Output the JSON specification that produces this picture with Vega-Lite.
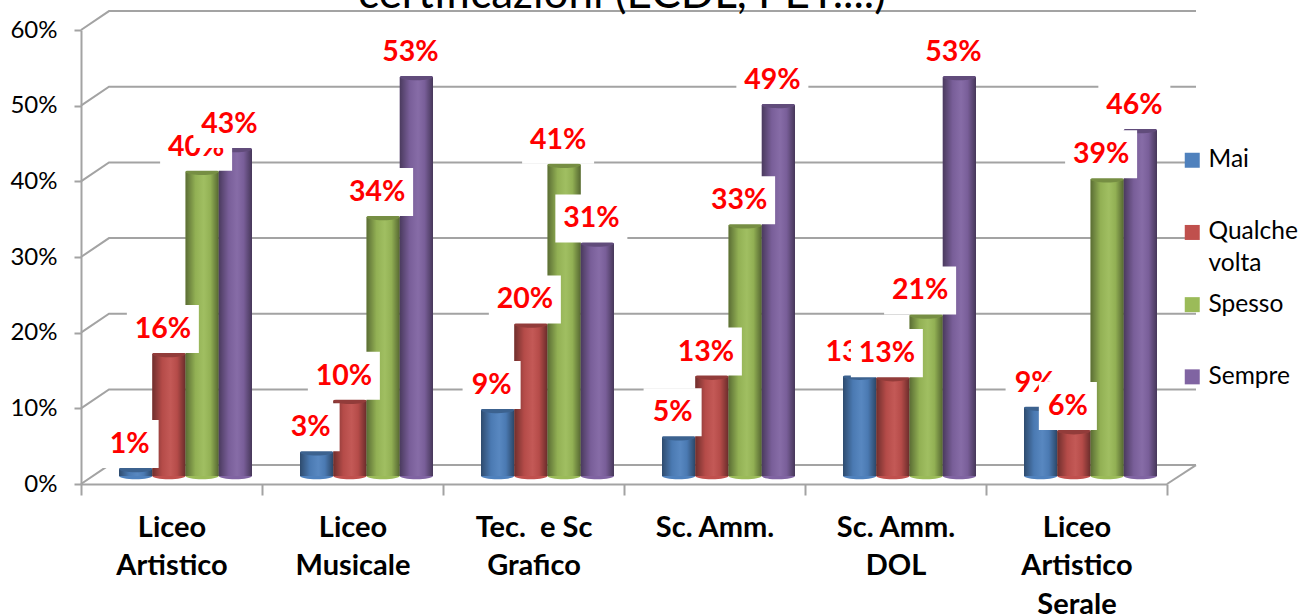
{
"$schema":"https://vega.github.io/schema/vega-lite/v6.json",
"width":1086,"height":454,
"autosize":{"type":"none"},
"padding":{"left":81,"top":30,"right":147,"bottom":132},
"background":"white",
"config":{"font":"Lato","view":{"stroke":null},"style":{"guide-label":{"lineHeight":32}}},
"title":{"text":"certificazioni (ECDL, PET....)","font":"Lato","fontSize":44,"fontWeight":"normal","color":"#000000","anchor":"middle","baseline":"alphabetic","offset":-45,"dx":-2},
"datasets":{
"wall":[
{"linea":"0","dx":0,"livello":0},{"linea":"0","dx":28,"livello":0.025},{"linea":"0","dx":1115,"livello":0.025},
{"linea":"0b","dx":1086,"livello":0},{"linea":"0b","dx":1115,"livello":0.025},
{"linea":"10","dx":0,"livello":0.1},{"linea":"10","dx":28,"livello":0.125},{"linea":"10","dx":1115,"livello":0.125},
{"linea":"20","dx":0,"livello":0.2},{"linea":"20","dx":28,"livello":0.225},{"linea":"20","dx":1115,"livello":0.225},
{"linea":"30","dx":0,"livello":0.3},{"linea":"30","dx":28,"livello":0.325},{"linea":"30","dx":1115,"livello":0.325},
{"linea":"40","dx":0,"livello":0.4},{"linea":"40","dx":28,"livello":0.425},{"linea":"40","dx":1115,"livello":0.425},
{"linea":"50","dx":0,"livello":0.5},{"linea":"50","dx":28,"livello":0.525},{"linea":"50","dx":1115,"livello":0.525},
{"linea":"60","dx":0,"livello":0.6},{"linea":"60","dx":28,"livello":0.625},{"linea":"60","dx":1115,"livello":0.625}
],
"valori":[
{"scuola":"Liceo\nArtistico","serie":"Mai","valore":0.012},
{"scuola":"Liceo\nArtistico","serie":"Qualche volta","valore":0.164},
{"scuola":"Liceo\nArtistico","serie":"Spesso","valore":0.4049},
{"scuola":"Liceo\nArtistico","serie":"Sempre","valore":0.4349},
{"scuola":"Liceo\nMusicale","serie":"Mai","valore":0.034},
{"scuola":"Liceo\nMusicale","serie":"Qualche volta","valore":0.102},
{"scuola":"Liceo\nMusicale","serie":"Spesso","valore":0.3449},
{"scuola":"Liceo\nMusicale","serie":"Sempre","valore":0.53},
{"scuola":"Tec. \u00a0e Sc\nGrafico","serie":"Mai","valore":0.09},
{"scuola":"Tec. \u00a0e Sc\nGrafico","serie":"Qualche volta","valore":0.203},
{"scuola":"Tec. \u00a0e Sc\nGrafico","serie":"Spesso","valore":0.414},
{"scuola":"Tec. \u00a0e Sc\nGrafico","serie":"Sempre","valore":0.31},
{"scuola":"Sc. Amm.","serie":"Mai","valore":0.054},
{"scuola":"Sc. Amm.","serie":"Qualche volta","valore":0.134},
{"scuola":"Sc. Amm.","serie":"Spesso","valore":0.334},
{"scuola":"Sc. Amm.","serie":"Sempre","valore":0.493},
{"scuola":"Sc. Amm.\nDOL","serie":"Mai","valore":0.134},
{"scuola":"Sc. Amm.\nDOL","serie":"Qualche volta","valore":0.132},
{"scuola":"Sc. Amm.\nDOL","serie":"Spesso","valore":0.2149},
{"scuola":"Sc. Amm.\nDOL","serie":"Sempre","valore":0.53},
{"scuola":"Liceo\nArtistico\nSerale","serie":"Mai","valore":0.093},
{"scuola":"Liceo\nArtistico\nSerale","serie":"Qualche volta","valore":0.062},
{"scuola":"Liceo\nArtistico\nSerale","serie":"Spesso","valore":0.3949},
{"scuola":"Liceo\nArtistico\nSerale","serie":"Sempre","valore":0.46}
]},
"layer":[
{"data":{"name":"wall"},
 "mark":{"type":"line","color":"#A3A3A3","strokeWidth":2,"clip":false},
 "encoding":{
  "x":{"field":"dx","type":"quantitative","scale":{"domain":[0,1086],"nice":false,"zero":false},"axis":null},
  "y":{"field":"livello","type":"quantitative","scale":{"domain":[0,0.6],"nice":false},"title":null,"axis":{"format":".0%","values":[0,0.1,0.2,0.3,0.4,0.5,0.6],"grid":false,"domainColor":"#A3A3A3","domainWidth":2,"tickColor":"#A3A3A3","tickWidth":2,"tickSize":7,"labelFontSize":24,"labelColor":"#000000","labelPadding":17,"labelFont":"Lato"}},
  "detail":{"field":"linea"},
  "order":{"field":"dx","type":"quantitative"}
 }},
{"data":{"name":"valori"},
 "encoding":{
  "x":{"field":"scuola","type":"nominal","sort":null,"title":null,"scale":{"paddingInner":0,"paddingOuter":0},
   "axis":{"labelExpr":"split(datum.label,'\\n')","labelAngle":0,"labelFontSize":29,"labelFontWeight":"bold","labelColor":"#000000","labelLineHeight":38.5,"labelBaseline":"top","labelPadding":18,"labelLimit":400,"labelFont":"Lato","tickBand":"extent","tickSize":11,"tickWidth":2,"tickColor":"#A3A3A3","domainColor":"#A3A3A3","domainWidth":2,"grid":false,"labelOverlap":false}},
  "xOffset":{"field":"serie","type":"nominal","sort":["Mai","Qualche volta","Spesso","Sempre"],"scale":{"domain":["Mai","Qualche volta","Spesso","Sempre"],"range":[38,171],"paddingInner":0,"paddingOuter":0}},
  "y":{"field":"valore","type":"quantitative"}
 },
 "layer":[
  {"mark":{"type":"point","filled":true,"opacity":1,"size":1089,"yOffset":-8,"shape":"M-1,0 A1,0.2 0 1,0 1,0 A1,0.2 0 1,0 -1,0 Z"},
   "encoding":{"y":{"datum":0},"color":{"field":"serie","type":"nominal","sort":["Mai","Qualche volta","Spesso","Sempre"],"scale":{"domain":["Mai","Qualche volta","Spesso","Sempre"],"range":["#4F81BD","#C0504D","#9BBB59","#8064A2"]},
     "legend":{"title":null,"orient":"none","legendX":1099,"legendY":118,"symbolType":"square","symbolSize":225,"symbolStrokeWidth":0,"labelFontSize":24.5,"labelFont":"Lato","labelColor":"#000000","labelOffset":4,"labelExpr":"indexof(datum.label,' ')>0 ? split(datum.label,' ') : [datum.label,' ']","rowPadding":15.2,"labelBaseline":"middle"}}}},
  {"mark":{"type":"bar","yOffset":-6,"y2Offset":-8,"width":33.25},
   "encoding":{"y2":{"datum":0},"color":{"field":"serie","type":"nominal","sort":["Mai","Qualche volta","Spesso","Sempre"]}}},
  {"mark":{"type":"bar","yOffset":-6,"y2Offset":-8,"width":33.25,"fill":{"gradient":"linear","x1":0,"y1":0,"x2":1,"y2":0,"stops":[{"offset":0,"color":"rgba(0,0,0,0.42)"},{"offset":0.3,"color":"rgba(0,0,0,0.06)"},{"offset":0.55,"color":"rgba(255,255,255,0.05)"},{"offset":0.75,"color":"rgba(0,0,0,0.06)"},{"offset":1,"color":"rgba(0,0,0,0.45)"}]}},
   "encoding":{"y2":{"datum":0}}},
  {"mark":{"type":"point","filled":true,"opacity":1,"size":1089,"yOffset":-6,"shape":"M-1,0 A1,0.2 0 1,0 1,0 A1,0.2 0 1,0 -1,0 Z"},
   "encoding":{"color":{"field":"serie","type":"nominal","sort":["Mai","Qualche volta","Spesso","Sempre"]}}},
  {"mark":{"type":"point","filled":true,"opacity":0.24,"color":"#000000","size":1089,"yOffset":-6,"shape":"M-1,0 A1,0.2 0 1,0 1,0 A1,0.2 0 1,0 -1,0 Z"}},
  {"transform":[{"filter":"datum.serie==='Mai'"}],
   "mark":{"type":"point","filled":true,"opacity":1,"color":"#FFFFFF","size":5184},
   "encoding":{"shape":{"condition":{"test":"datum.valore<0.095","value":"M-0.973,-1.528 H0.639 V-0.194 H-0.973 Z"},"value":"M-1.167,-1.528 H0.833 V-0.194 H-1.167 Z"}}},
  {"transform":[{"filter":"datum.serie==='Mai'"}],
   "mark":{"type":"text","color":"#FF0000","fontWeight":"bold","fontSize":28.5,"font":"Lato","dx":-6,"dy":-31,"baseline":"middle"},
   "encoding":{"text":{"field":"valore","type":"quantitative","format":".0%"}}},
  {"transform":[{"filter":"datum.serie==='Qualche volta'"}],
   "mark":{"type":"point","filled":true,"opacity":1,"color":"#FFFFFF","size":5184},
   "encoding":{"shape":{"condition":{"test":"datum.valore<0.095","value":"M-0.973,-1.528 H0.639 V-0.194 H-0.973 Z"},"value":"M-1.167,-1.528 H0.833 V-0.194 H-1.167 Z"}}},
  {"transform":[{"filter":"datum.serie==='Qualche volta'"}],
   "mark":{"type":"text","color":"#FF0000","fontWeight":"bold","fontSize":28.5,"font":"Lato","dx":-6,"dy":-31,"baseline":"middle"},
   "encoding":{"text":{"field":"valore","type":"quantitative","format":".0%"}}},
  {"transform":[{"filter":"datum.serie==='Spesso'"}],
   "mark":{"type":"point","filled":true,"opacity":1,"color":"#FFFFFF","size":5184},
   "encoding":{"shape":{"condition":{"test":"datum.valore<0.095","value":"M-0.973,-1.528 H0.639 V-0.194 H-0.973 Z"},"value":"M-1.167,-1.528 H0.833 V-0.194 H-1.167 Z"}}},
  {"transform":[{"filter":"datum.serie==='Spesso'"}],
   "mark":{"type":"text","color":"#FF0000","fontWeight":"bold","fontSize":28.5,"font":"Lato","dx":-6,"dy":-31,"baseline":"middle"},
   "encoding":{"text":{"field":"valore","type":"quantitative","format":".0%"}}},
  {"transform":[{"filter":"datum.serie==='Sempre'"}],
   "mark":{"type":"point","filled":true,"opacity":1,"color":"#FFFFFF","size":5184},
   "encoding":{"shape":{"condition":{"test":"datum.valore<0.095","value":"M-0.973,-1.528 H0.639 V-0.194 H-0.973 Z"},"value":"M-1.167,-1.528 H0.833 V-0.194 H-1.167 Z"}}},
  {"transform":[{"filter":"datum.serie==='Sempre'"}],
   "mark":{"type":"text","color":"#FF0000","fontWeight":"bold","fontSize":28.5,"font":"Lato","dx":-6,"dy":-31,"baseline":"middle"},
   "encoding":{"text":{"field":"valore","type":"quantitative","format":".0%"}}}
 ]}
],
"resolve":{"scale":{"x":"independent"}}
}
